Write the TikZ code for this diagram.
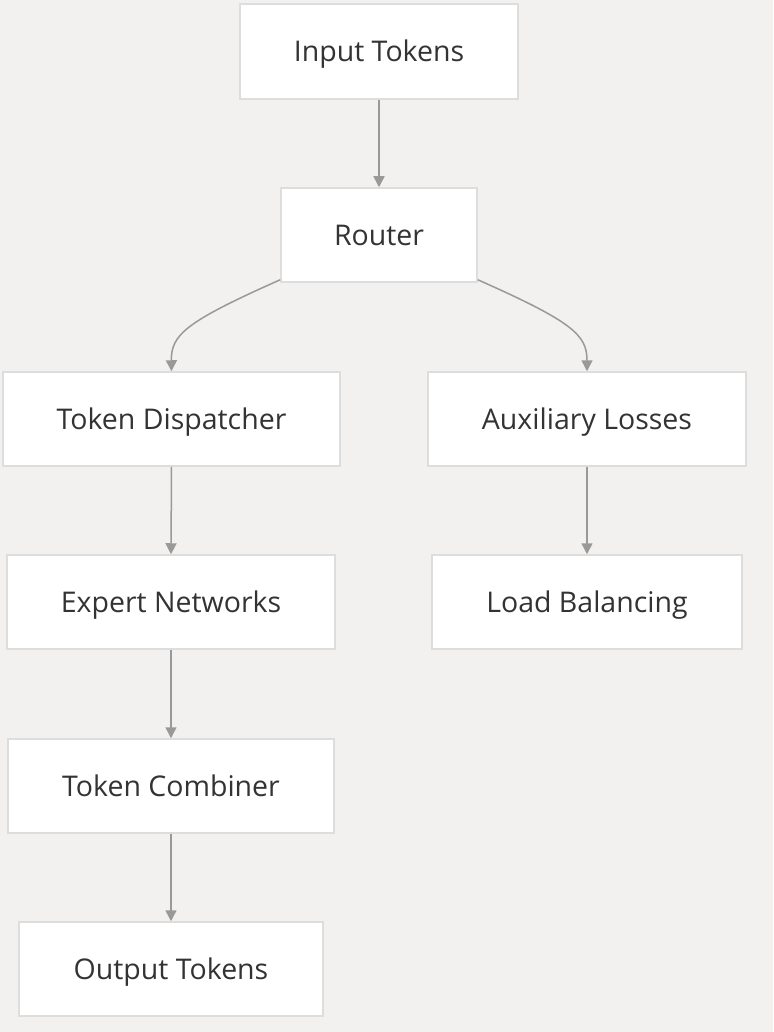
\documentclass[tikz,border=0pt]{standalone}
\usepackage{fontspec}
\setmainfont{Open Sans}
\usetikzlibrary{arrows.meta}
\definecolor{bgc}{HTML}{F2F1F0}
\definecolor{boxborder}{HTML}{DDDDDD}
\definecolor{linec}{HTML}{999999}
\definecolor{textc}{HTML}{333333}
\tikzset{
  box/.style={draw=boxborder, line width=1.5pt, fill=white, text=textc, font=\fontsize{28.5}{32}\selectfont, inner sep=0pt, anchor=center, text height=20.5pt, text depth=0pt},
  conn/.style={draw=linec, line width=1.5pt, -{Triangle[length=11pt,width=11pt]}}
}
\begin{document}
\begin{tikzpicture}[x=1pt,y=-1pt]
\fill[bgc] (0,0) rectangle (773,1032);
\useasboundingbox (0,0) rectangle (773,1032);
\node[box, minimum width=278pt, minimum height=95pt] (in) at (379,51.5) {Input Tokens};
\node[box, minimum width=196pt, minimum height=94pt] (router) at (379,235) {Router};
\node[box, minimum width=337pt, minimum height=94pt] (disp) at (171.5,419) {Token Dispatcher};
\node[box, minimum width=318pt, minimum height=94pt] (aux) at (587,419) {Auxiliary Losses};
\node[box, minimum width=328pt, minimum height=94pt] (exp) at (171,602) {Expert Networks};
\node[box, minimum width=310pt, minimum height=94pt] (load) at (587,602) {Load Balancing};
\node[box, minimum width=326pt, minimum height=94pt] (comb) at (171,786) {Token Combiner};
\node[box, minimum width=304pt, minimum height=94pt] (out) at (171,969) {Output Tokens};
\draw[conn] (in.south) -- (router.north);
\draw[conn] (router.south west) ++(0,-3) .. controls (185,322) and (171,335) .. (disp.north);
\draw[conn] (router.south east) ++(0,-3) .. controls (573,322) and (587,335) .. (aux.north);
\draw[conn] (disp.south) -- (exp.north);
\draw[conn] (aux.south) -- (load.north);
\draw[conn] (exp.south) -- (comb.north);
\draw[conn] (comb.south) -- (out.north);
\end{tikzpicture}
\end{document}
